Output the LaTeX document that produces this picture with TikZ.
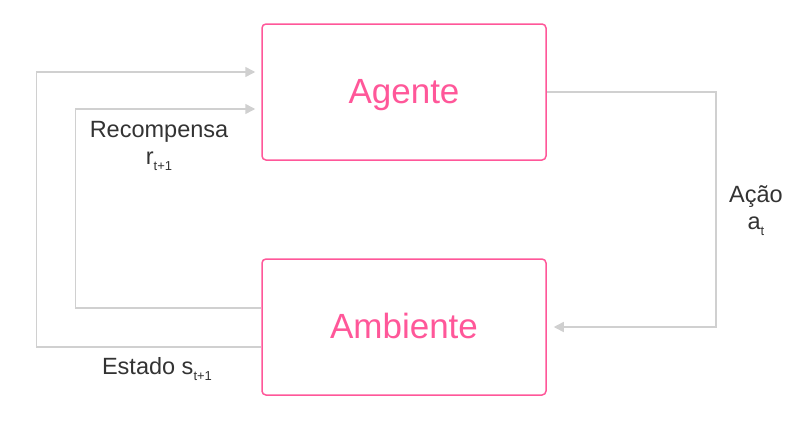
\documentclass[tikz,border=0pt]{standalone}
\usepackage{fontspec}
\setmainfont{Liberation Sans}
\usetikzlibrary{arrows.meta}
\definecolor{boxpink}{RGB}{255,87,153}
\definecolor{linegray}{RGB}{208,208,208}
\definecolor{textgray}{RGB}{51,51,51}
\newcommand{\lowsub}[1]{\raisebox{-6pt}{\fontsize{13}{13}\selectfont #1}}

\begin{document}
\begin{tikzpicture}[x=1pt,y=-1pt,
box/.style={draw=boxpink,line width=1.5pt,rounded corners=4pt,minimum width=284pt,
minimum height=136pt,text=boxpink,font=\fontsize{35}{42}\selectfont,
text height=22pt,text depth=0pt},
flow/.style={linegray,line width=1.5pt,-{Triangle[length=10pt,width=10pt]}},
lbl/.style={textgray,font=\fontsize{23.5}{27}\selectfont,align=center,inner sep=0pt}]
\useasboundingbox (0,0) rectangle (810,426);
\node[box] (agente) at (404,92) {Agente};
\node[box] (ambiente) at (404,327) {Ambiente};
% feedback loops from the environment back to the agent
\draw[flow] ([yshift=-20pt]ambiente.west) -- ++(-225,0) |- ([xshift=-6pt,yshift=20pt]agente.west);
\draw[flow] ([yshift=19pt]ambiente.west) -- ++(-186,0) |- ([xshift=-6pt,yshift=-17pt]agente.west);
% action goes down on the right
\draw[flow] (agente.east) -- ++(169,0) |- ([xshift=7pt]ambiente.east);
\node[lbl] (recompensa) at (159,146) {Recompensa\\r\lowsub{t+1}};
\node[lbl] (estado) at (157,369) {Estado s\lowsub{t+1}};
\node[lbl] (acao) at (756,211) {Ação\\a\lowsub{t}};
\end{tikzpicture}
\end{document}
